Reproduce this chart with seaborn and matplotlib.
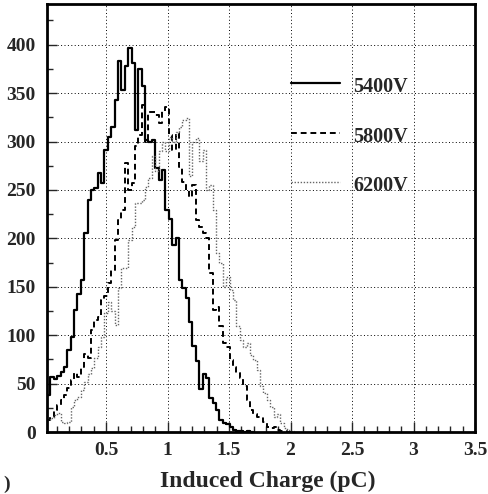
import numpy as np
import pandas as pd
import matplotlib
matplotlib.use("Agg")
import matplotlib.pyplot as plt
from matplotlib.ticker import MultipleLocator
import seaborn as sns

# histogram binning
X_START = 0.02
BIN_W = 0.0275

counts_5400 = [38, 57, 55, 58, 62, 67, 85, 98, 126, 143, 157, 205, 240, 250, 252, 267,
               257, 291, 305, 315, 343, 383, 353, 378, 397, 381, 312, 375, 357, 302, 300,
               302, 273, 260, 271, 229, 220, 193, 200, 157, 149, 138, 114, 89, 73, 44, 60,
               56, 35, 30, 23, 12, 9, 8, 5, 2, 1, 1, 0, 1, 0]
counts_5800 = [12, 16, 23, 28, 33, 38, 45, 54, 61, 57, 67, 81, 76, 105, 116, 119, 136,
               140, 154, 167, 198, 219, 229, 278, 250, 257, 295, 307, 338, 300, 330, 330,
               327, 319, 331, 336, 307, 291, 309, 274, 258, 250, 243, 255, 219, 212, 205,
               200, 164, 126, 129, 109, 92, 88, 74, 67, 61, 56, 47, 33, 23, 19, 16, 16, 10,
               5, 4, 5, 2, 1, 1, 0]
counts_6200 = [12, 14, 18, 20, 10, 9, 10, 26, 33, 36, 43, 52, 60, 66, 76, 88, 98, 123,
               134, 125, 110, 149, 169, 169, 198, 212, 236, 236, 240, 253, 262, 285, 270,
               290, 300, 290, 305, 300, 310, 315, 322, 324, 264, 300, 304, 280, 291, 250,
               255, 229, 185, 175, 150, 160, 147, 136, 109, 95, 88, 92, 80, 74, 64, 47, 40,
               33, 26, 16, 19, 9, 4, 2, 1]

series = ["5400V", "5800V", "6200V"]
styles = {"5400V": dict(color="black", lw=1.6, ls="-"),
          "5800V": dict(color="black", lw=1.4, ls=(0, (3, 2))),
          "6200V": dict(color="#666666", lw=1.0, ls=(0, (1, 1.2)))}
legend_y = {"5400V": 360, "5800V": 309, "6200V": 258}

rows = []
for name, vals in zip(series, [counts_5400, counts_5800, counts_6200]):
    for i, v in enumerate(vals):
        rows.append((name, X_START + (i + 0.5) * BIN_W, v))
df = pd.DataFrame(rows, columns=["hv", "charge", "count"])

sns.set_style("ticks")
plt.rcParams["font.family"] = ["Liberation Serif", "DejaVu Serif"]
plt.rcParams["font.weight"] = "bold"

fig = plt.figure(figsize=(4.88, 4.94), dpi=100)
ax = fig.add_axes([47 / 488, 1 - 432 / 494, 428 / 488, 428 / 494])

for name in series:
    sub = df[df["hv"] == name]
    n = len(sub)
    st = styles[name]
    sns.histplot(data=sub, x="charge", weights="count", binwidth=BIN_W,
                 binrange=(X_START, X_START + n * BIN_W),
                 element="step", fill=False, ax=ax,
                 color=st["color"], linewidth=st["lw"], linestyle=st["ls"])
    # legend sample line and label inside the frame
    ax.plot([2.0, 2.4], [legend_y[name]] * 2, color=st["color"],
            lw=st["lw"], ls=st["ls"])
    ax.text(2.51, legend_y[name] - 4, name, fontsize=14.5, fontweight="bold",
            va="center", ha="left")

ax.set_xlim(X_START, 3.5)
ax.set_ylim(0, 442)
ax.xaxis.set_major_locator(MultipleLocator(0.5))
ax.xaxis.set_minor_locator(MultipleLocator(0.1))
ax.yaxis.set_major_locator(MultipleLocator(50))
ax.yaxis.set_minor_locator(MultipleLocator(25))
ax.set_xticks([0.5, 1, 1.5, 2, 2.5, 3, 3.5])
ax.set_xticklabels(["0.5", "1", "1.5", "2", "2.5", "3", "3.5"])
ax.tick_params(which="both", direction="in", top=False, right=False,
               labelsize=14, width=1)
ax.tick_params(which="major", length=7)
ax.tick_params(which="minor", length=4)
ax.tick_params(axis="x", pad=7)
ax.tick_params(axis="y", pad=8)
ax.grid(True, which="major", color="black", lw=0.7, ls=(0, (1, 2.5)))
for sp in ax.spines.values():
    sp.set_linewidth(2)
    sp.set_color("black")
ax.set_xlabel("")
ax.set_ylabel("")

fig.text(268 / 488, 1 - 481 / 494, "Induced Charge (pC)", fontsize=17,
         fontweight="bold", ha="center", va="center")
fig.text(3 / 488, 1 - 484 / 494, ")", fontsize=14, ha="left", va="center")

fig.savefig("out.png", dpi=100)
